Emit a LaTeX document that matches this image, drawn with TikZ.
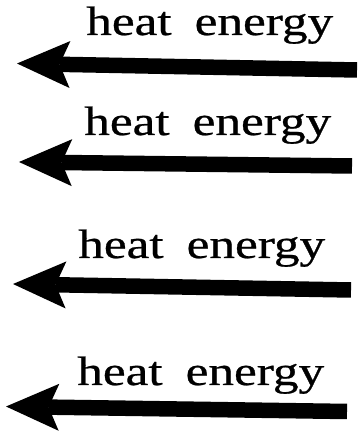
\documentclass[tikz,border=0pt]{standalone}
\usepackage{fontspec}
\setmainfont{Liberation Serif}
\newfontfamily\heatfont[FakeBold=0.6]{Liberation Serif}
\usetikzlibrary{arrows.meta}
\begin{document}
\begin{tikzpicture}[x=1pt,y=1pt,
  heatarrow/.style={line width=15.5pt, line cap=butt, black,
    -{Stealth[length=53pt, width=47pt, inset=10.4pt, line width=0pt]}},
  heatlabel/.style={anchor=base west, inner sep=0pt, xscale=1.25,
    font=\heatfont\fontsize{41}{42}\selectfont}]
\useasboundingbox (0,0) rectangle (357,433);
% arrow 1
\coordinate (e1) at (357,363);
\coordinate (t1) at (17,369.5);
\draw[heatarrow] (e1) -- (t1);
\node[heatlabel] (l1) at (86,398) {heat\hspace{0.45em}energy};
% arrow 2
\coordinate (e2) at (352,267);
\coordinate (t2) at (19,271);
\draw[heatarrow] (e2) -- (t2);
\node[heatlabel] (l2) at (84,298) {heat\hspace{0.45em}energy};
% arrow 3
\coordinate (e3) at (351,143);
\coordinate (t3) at (13,149);
\draw[heatarrow] (e3) -- (t3);
\node[heatlabel] (l3) at (78,175) {heat\hspace{0.45em}energy};
% arrow 4
\coordinate (e4) at (347,21.5);
\coordinate (t4) at (6,26.5);
\draw[heatarrow] (e4) -- (t4);
\node[heatlabel] (l4) at (77,48) {heat\hspace{0.45em}energy};
\end{tikzpicture}
\end{document}
